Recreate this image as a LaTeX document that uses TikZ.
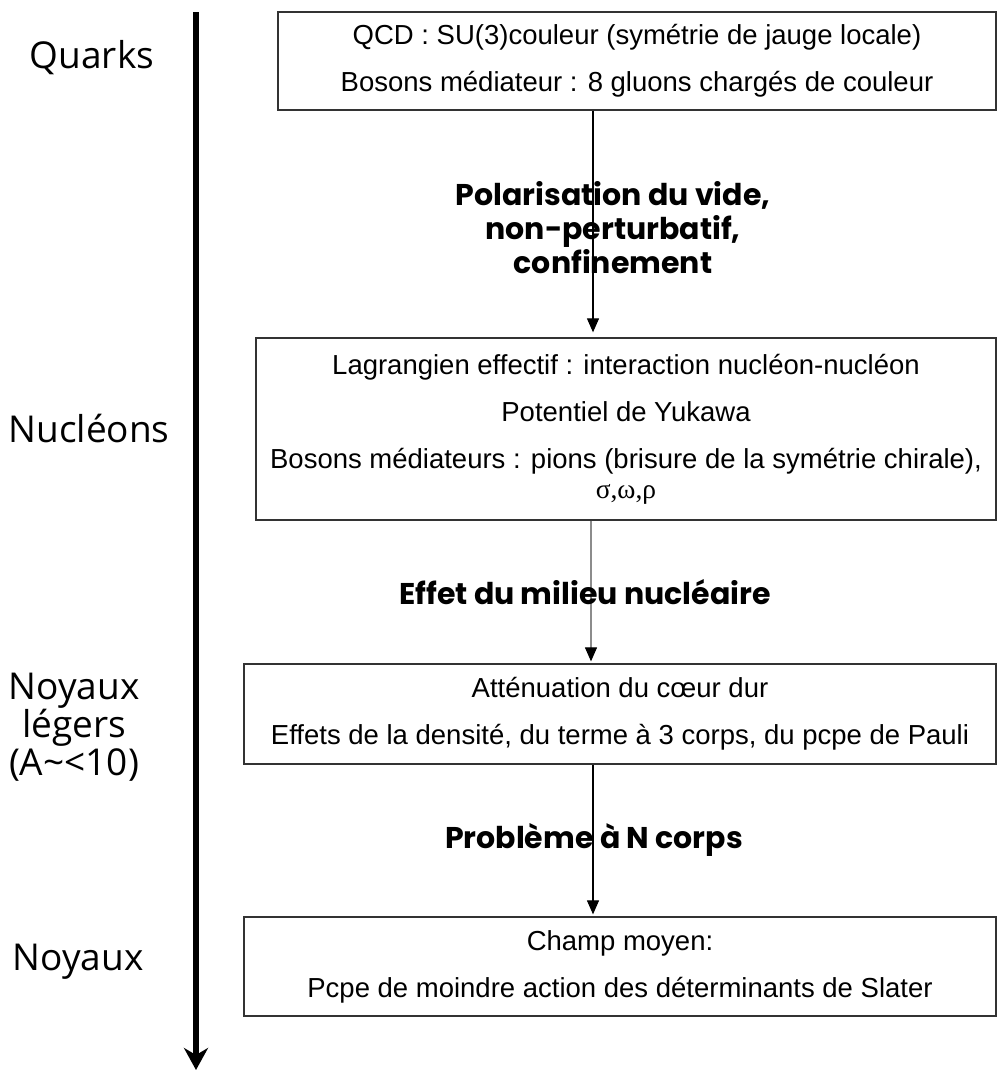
\documentclass[tikz,border=0pt]{standalone}
\usepackage{fontspec}
\usetikzlibrary{arrows.meta}
\newfontfamily\arialfam{Liberation Sans}
\newfontfamily\greekfam{Liberation Serif}
\newfontfamily\sidefam{Open Sans}
\newfontfamily\stepfam{Poppins}
\begin{document}
\begin{tikzpicture}[x=1pt,y=-1pt,
  boxst/.style={draw=black!80, line width=1.3pt, align=center, inner sep=0pt,
    font=\arialfam\fontsize{27.5}{47}\selectfont},
  sidelbl/.style={align=center, inner sep=0pt,
    font=\sidefam\fontsize{37}{38}\selectfont},
  steplbl/.style={align=center, inner sep=0pt,
    font=\stepfam\bfseries\fontsize{30}{34}\selectfont},
  conn/.style={line width=1.1pt, -{Triangle[length=14pt,width=12pt,color=black]}},
  mainarrow/.style={line width=6pt, -{Stealth[length=22pt,width=24pt,inset=7pt]}}
]
\useasboundingbox (0,0) rectangle (997,1072);

% time axis on the left
\coordinate (axtop) at (196,12);
\coordinate (axbot) at (196,1070);
\draw[mainarrow] (axtop) -- (axbot);

% scale labels
\node[sidelbl] (quarks) at (92,58) {Quarks};
\node[sidelbl] (nucleons) at (89,428) {Nucléons};
\node[sidelbl] (legers) at (74,727) {Noyaux\\légers\\(A\textasciitilde{}<10)};
\node[sidelbl] (noyaux) at (78,962) {Noyaux};

% description boxes
\node[boxst, minimum width=718pt, minimum height=98pt] (b1) at (637,61)
  {QCD : SU(3)couleur (symétrie de jauge locale)\\
   Bosons médiateur : 8 gluons chargés de couleur};
\node[boxst, minimum width=740pt, minimum height=182pt] (b2) at (626,429)
  {Lagrangien effectif : interaction nucléon-nucléon\\
   Potentiel de Yukawa\\
   Bosons médiateurs : pions (brisure de la symétrie chirale),\\[-17pt]
   {\greekfam σ,ω,ρ}};
\node[boxst, minimum width=752pt, minimum height=100pt] (b3) at (620,714)
  {Atténuation du cœur dur\\
   Effets de la densité, du terme à 3 corps, du pcpe de Pauli};
\node[boxst, minimum width=752pt, minimum height=99pt] (b4) at (620,966.5)
  {Champ moyen:\\
   Pcpe de moindre action des déterminants de Slater};

% transitions between the levels
\coordinate (x1) at (593,0);
\coordinate (x2) at (591,0);
\coordinate (x3) at (593,0);
\draw[conn] (b1.south -| x1) -- ([yshift=5pt]b2.north -| x1);
\draw[conn, draw=black!45] (b2.south -| x2) -- ([yshift=2pt]b3.north -| x2);
\draw[conn] (b3.south -| x3) -- ([yshift=2pt]b4.north -| x3);

\node[steplbl] (t1) at (613,228) {Polarisation du vide,\\non-perturbatif,\\confinement};
\node[steplbl] (t2) at (585,592) {Effet du milieu nucléaire};
\node[steplbl] (t3) at (594,840) {Problème à N corps};
\end{tikzpicture}
\end{document}
